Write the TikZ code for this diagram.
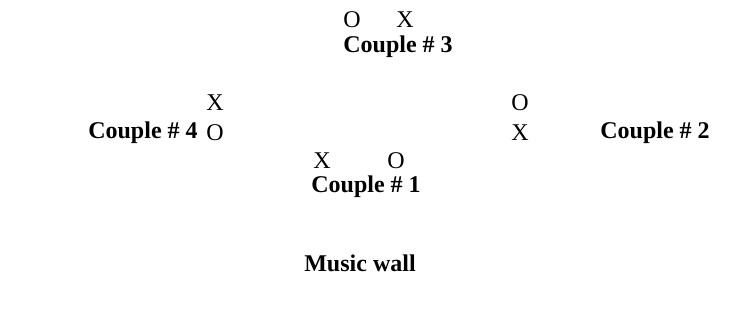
\documentclass[tikz,border=0pt]{standalone}
\usepackage{fontspec}
\setmainfont{Liberation Serif}
\usetikzlibrary{positioning}

\begin{document}
\begin{tikzpicture}[
            x = 1pt,
            y = 1pt,
            inner sep = 0pt,
            dancer/.style = {font=\fontsize{24}{28}\selectfont},
            couple/.style = {font=\fontsize{24}{28}\selectfont\bfseries}
        ]
        \useasboundingbox (0,0) rectangle (735,328);

        \node[dancer] (w3) at (352,308) {O};
        \node[dancer] (m3) at (405,308) {X};
        \node[couple] (c3) at (398,281) {Couple \# 3};

        \node[dancer] (m4) at (215,225) {X};
        \node[dancer] (w4) at (215,195) {O};
        \node[couple] (c4) at (143,195) {Couple \# 4};

        \node[dancer] (w2) at (520,225) {O};
        \node[dancer] (m2) at (520,195) {X};
        \node[couple] (c2) at (655,195) {Couple \# 2};

        \node[dancer] (m1) at (322,167) {X};
        \node[dancer] (w1) at (396,167) {O};
        \node[couple] (c1) at (366,141) {Couple \# 1};

        \node[couple] (wall) at (360,65) {Music wall};
    \end{tikzpicture}
\end{document}
